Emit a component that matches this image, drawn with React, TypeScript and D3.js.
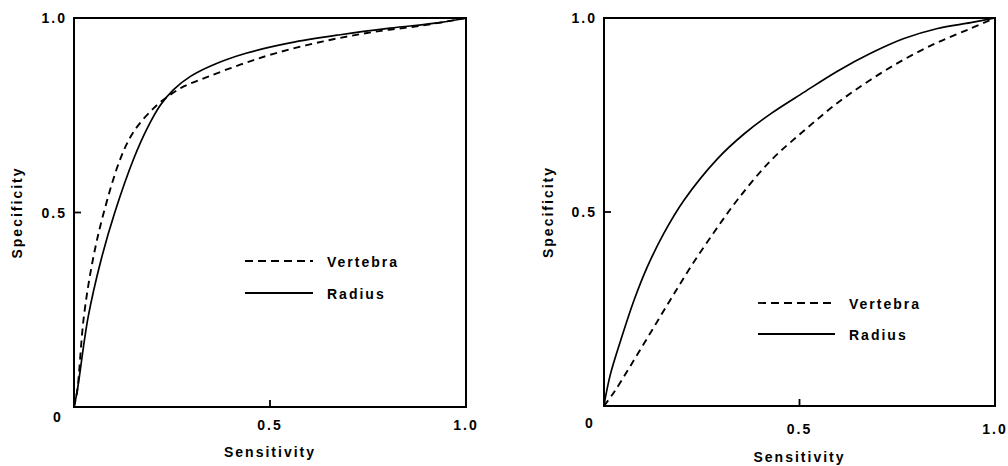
import * as d3 from "d3";

// Left panel: [sensitivity, specificity]
const leftVertebra: [number, number][] = [
  [0, 0], [0.008, 0.04], [0.025, 0.231], [0.048, 0.378], [0.076, 0.5],
  [0.119, 0.64], [0.153, 0.709], [0.204, 0.769], [0.246, 0.803], [0.28, 0.824],
  [0.339, 0.848], [0.424, 0.88], [0.509, 0.908], [0.636, 0.94], [0.763, 0.964],
  [0.89, 0.981], [1, 1],
];
const leftRadius: [number, number][] = [
  [0, 0], [0.008, 0.04], [0.036, 0.231], [0.069, 0.378], [0.104, 0.5],
  [0.153, 0.64], [0.187, 0.717], [0.221, 0.777], [0.254, 0.816], [0.297, 0.85],
  [0.356, 0.88], [0.441, 0.91], [0.551, 0.936], [0.679, 0.957], [0.806, 0.974],
  [0.933, 0.988], [1, 1],
];

// Right panel
const rightVertebra: [number, number][] = [
  [0, 0], [0.026, 0.036], [0.068, 0.104], [0.119, 0.189], [0.17, 0.274],
  [0.222, 0.359], [0.281, 0.447], [0.341, 0.531], [0.426, 0.632], [0.512, 0.71],
  [0.597, 0.781], [0.682, 0.841], [0.767, 0.893], [0.853, 0.937], [0.938, 0.973],
  [1, 1],
];
const rightRadius: [number, number][] = [
  [0, 0], [0.004, 0.024], [0.017, 0.084], [0.043, 0.17], [0.077, 0.273],
  [0.111, 0.359], [0.153, 0.445], [0.205, 0.531], [0.29, 0.637], [0.358, 0.701],
  [0.426, 0.753], [0.512, 0.809], [0.597, 0.863], [0.682, 0.909], [0.767, 0.947],
  [0.853, 0.973], [0.938, 0.988], [1, 1],
];

const seriesNames = ["Vertebra", "Radius"];
const xTickLabels = ["0.5", "1.0"];
const yTickLabels = ["0.5", "1.0"];
const xTitle = "Sensitivity";
const yTitle = "Specificity";

const FONT = "'Liberation Sans', Arial, sans-serif";

interface PanelProps {
  left: number;
  right: number;
  top: number;
  bottom: number;
  vertebra: [number, number][];
  radius: [number, number][];
  xLabelY: number;
  zeroPos: [number, number];
  titleX: number;
  xTitleY: number;
  legendX: number;
  legendY: number;
  legendGap: number;
  legendLen: number;
}

function Panel(p: PanelProps) {
  const x = d3.scaleLinear().domain([0, 1]).range([p.left, p.right]);
  const y = d3.scaleLinear().domain([0, 1]).range([p.bottom, p.top]);
  const line = d3
    .line<[number, number]>()
    .x((d) => x(d[0]))
    .y((d) => y(d[1]))
    .curve(d3.curveCatmullRom.alpha(0.5));

  const textStyle = {
    fontFamily: FONT,
    fontWeight: 700,
    fontSize: 14,
    letterSpacing: 2,
  } as const;

  return (
    <g>
      {/* frame */}
      <rect
        x={p.left}
        y={p.top}
        width={p.right - p.left}
        height={p.bottom - p.top}
        fill="none"
        stroke="#000"
        strokeWidth={2}
      />
      {/* inward ticks at 0.5 */}
      <line x1={x(0.5)} x2={x(0.5)} y1={p.bottom} y2={p.bottom - 7} stroke="#000" strokeWidth={1.8} />
      <line x1={p.left} x2={p.left + 7} y1={y(0.5)} y2={y(0.5)} stroke="#000" strokeWidth={1.8} />

      {/* curves */}
      <path d={line(p.vertebra) ?? ""} fill="none" stroke="#000" strokeWidth={1.9} strokeDasharray="7 5" />
      <path d={line(p.radius) ?? ""} fill="none" stroke="#000" strokeWidth={1.7} />

      {/* x tick labels */}
      {xTickLabels.map((t) => (
        <text key={t} x={x(+t)} y={p.xLabelY} textAnchor="middle" style={textStyle}>
          {t}
        </text>
      ))}
      {/* y tick labels */}
      {yTickLabels.map((t) => (
        <text key={t} x={p.left - 7} y={y(+t) + 5} textAnchor="end" style={textStyle}>
          {t}
        </text>
      ))}
      <text x={p.zeroPos[0]} y={p.zeroPos[1]} textAnchor="middle" style={textStyle}>
        0
      </text>

      {/* axis titles */}
      <text x={x(0.5)} y={p.xTitleY} textAnchor="middle" style={textStyle}>
        {xTitle}
      </text>
      <text
        transform={`translate(${p.titleX},${y(0.5)}) rotate(-90)`}
        textAnchor="middle"
        style={textStyle}
      >
        {yTitle}
      </text>

      {/* legend */}
      {seriesNames.map((name, i) => {
        const ly = p.legendY + i * p.legendGap;
        return (
          <g key={name}>
            <line
              x1={p.legendX}
              x2={p.legendX + p.legendLen}
              y1={ly}
              y2={ly}
              stroke="#000"
              strokeWidth={1.8}
              strokeDasharray={i === 0 ? "8 5" : undefined}
            />
            <text x={p.legendX + p.legendLen + 14} y={ly + 6} style={textStyle}>
              {name}
            </text>
          </g>
        );
      })}
    </g>
  );
}

export default function App() {
  return (
    <svg
      width={1008}
      height={466}
      style={{ position: "absolute", left: 0, top: 0, background: "#fff" }}
    >
      <rect width={1008} height={466} fill="#fff" />
      <Panel
        left={74}
        right={466}
        top={18}
        bottom={407}
        vertebra={leftVertebra}
        radius={leftRadius}
        xLabelY={430}
        zeroPos={[58, 422]}
        titleX={22}
        xTitleY={457}
        legendX={245}
        legendY={261}
        legendGap={32}
        legendLen={68}
      />
      <Panel
        left={604}
        right={995}
        top={18}
        bottom={406}
        vertebra={rightVertebra}
        radius={rightRadius}
        xLabelY={434}
        zeroPos={[590, 428]}
        titleX={553}
        xTitleY={462}
        legendX={758}
        legendY={303}
        legendGap={31}
        legendLen={77}
      />
    </svg>
  );
}
